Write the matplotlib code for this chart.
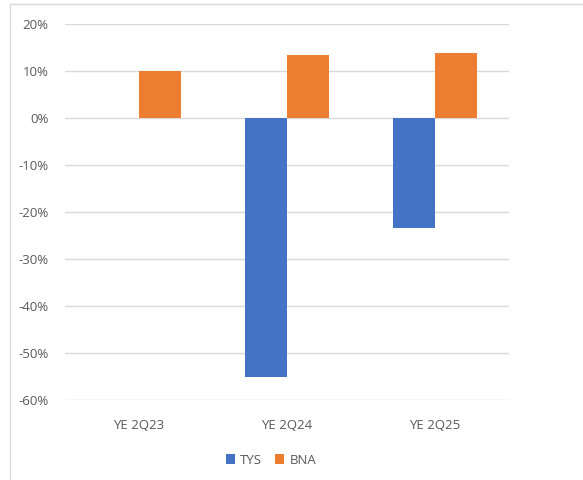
import matplotlib
matplotlib.use("Agg")
import matplotlib.pyplot as plt
import numpy as np
from matplotlib.patches import Rectangle
from matplotlib.ticker import PercentFormatter

categories = ["YE 2Q23", "YE 2Q24", "YE 2Q25"]
tys = [0.0, -55.0, -23.3]
bna = [10.0, 13.3, 13.9]

plt.rcParams['font.family'] = ['Open Sans', 'DejaVu Sans']
plt.rcParams['axes.unicode_minus'] = False

fig = plt.figure(figsize=(5.83, 4.8), dpi=100)
ax = fig.add_axes([65/583, 1-400/480, (509-65)/583, (400-24)/480])

x = np.arange(len(categories))
w = 42/148
ax.bar(x - w/2, tys, w, color="#4472C4", linewidth=0, label="TYS", zorder=3)
ax.bar(x + w/2, bna, w, color="#ED7D31", linewidth=0, label="BNA", zorder=3)

ax.set_xlim(-0.5, 2.5)
ax.set_ylim(-60, 20)
ax.set_yticks(np.arange(-60, 21, 10))
ax.yaxis.set_major_formatter(PercentFormatter(decimals=0))
ax.set_xticks(x)
ax.set_xticklabels(categories)
ax.grid(axis="y", color="#d9d9d9", linewidth=1, zorder=0)
for s in ax.spines.values():
    s.set_visible(False)
ax.tick_params(axis="both", length=0, labelsize=9.5, colors="#595959")
ax.tick_params(axis="y", pad=12)
ax.tick_params(axis="x", pad=14)

fig.legend(loc="center", bbox_to_anchor=(271/583, 1-460/480), ncol=2, frameon=False,
           fontsize=9.5, labelcolor="#595959", handlelength=0.7, handleheight=0.7,
           handletextpad=0.4, columnspacing=1.0)

fig.add_artist(Rectangle((10/583, -0.05), 1.0, 1-4/480+0.05, transform=fig.transFigure,
                         fill=False, edgecolor="#d9d9d9", linewidth=1))

fig.savefig("out.png", dpi=100)
